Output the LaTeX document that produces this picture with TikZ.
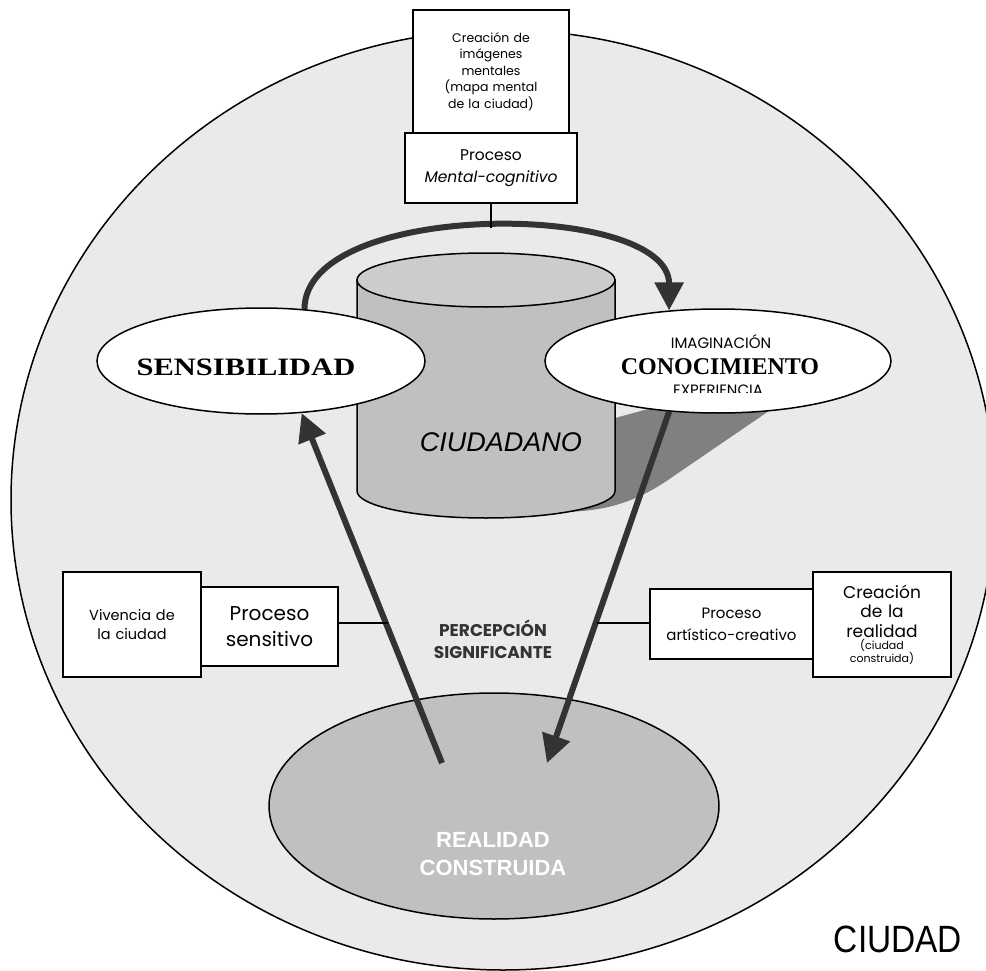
\documentclass[tikz,border=0pt]{standalone}
\usepackage{fontspec}
\usetikzlibrary{arrows.meta,shapes.geometric}
\newfontfamily\gothic{Poppins}
\newfontfamily\arialfont{Liberation Sans}
\newfontfamily\timesfont{Liberation Serif}
\definecolor{ciudadgray}{HTML}{EAEAEA}
\definecolor{cylgray}{HTML}{C0C0C0}
\definecolor{cyltop}{HTML}{CCCCCC}
\definecolor{shadowgray}{HTML}{808080}
\definecolor{arrowgray}{HTML}{333333}
\newcommand{\fs}[2]{\fontsize{#1}{#2}\selectfont}
\pgfdeclarelayer{back}
\pgfsetlayers{back,main}

\begin{document}
\begin{tikzpicture}[x=1pt,y=-1pt,
        box/.style={draw,line width=1.6pt,fill=white,inner sep=0pt,align=center},
        oval/.style={draw,line width=1.5pt,ellipse,inner sep=0pt},
        bigarrow/.style={draw=arrowgray,line width=6pt,-{Triangle[length=28pt,width=28pt]}}]
            \useasboundingbox (0,0) rectangle (986,971);

            \node[oval,fill=white,minimum width=328pt,minimum height=106pt] (sens) at (261,361) {};
            \node[anchor=base,font=\timesfont\bfseries\fs{25}{25}] (senstext) at (246,375)
                {\scalebox{1.22}[1]{SENSIBILIDAD}};
            \node[oval,fill=white,minimum width=346pt,minimum height=104pt] (conoc) at (718,361) {};
            \node[anchor=base,font=\gothic\fs{15}{15}] (imag) at (721,348) {IMAGINACIÓN};
            \node[anchor=base,font=\timesfont\bfseries\fs{24}{24}] (conoctext) at (720,374) {CONOCIMIENTO};
            \begin{scope}
                \clip (600,370) rectangle (840,392);
                \node[anchor=base,font=\gothic\fs{15}{15}] (exper) at (718,395) {EXPERIENCIA};
            \end{scope}
            \node[font=\arialfont\itshape\fs{27}{27}] (ciudadano) at (501,442) {CIUDADANO};

            \begin{pgfonlayer}{back}
                \draw[line width=1.5pt,fill=ciudadgray] (503,500) ellipse[x radius=492,y radius=470];
                \fill[shadowgray] (615,418) -- (700,395) -- (785,400) -- (665,482)
                    .. controls (630,505) and (600,511) .. (565,512) -- cycle;
                \draw[line width=1.5pt,fill=cylgray] (357,280) -- (357,491)
                    arc[start angle=180,end angle=0,x radius=129,y radius=27] -- (615,280) -- cycle;
                \draw[line width=1.5pt,fill=cyltop] (486,280) ellipse[x radius=129,y radius=27];
                \draw[bigarrow] (sens.50) .. controls +(0,-110) and +(0,-110) .. (conoc.134);
            \end{pgfonlayer}

            \node[box,text width=156pt,minimum height=123pt,font=\gothic\fs{12.5}{16.5}] (imagenes) at (491,71.5)
                {Creación de\\imágenes\\mentales\\(mapa mental\\de la ciudad)\par\vspace*{16pt}};
            \node[box,text width=172pt,minimum height=70pt,font=\gothic\fs{15.5}{22}] (mental) at (491,168)
                {Proceso\\\textit{Mental-cognitivo}};
            \coordinate (looptop) at (491,228);
            \draw[line width=1.5pt] (mental.south) -- (looptop);

            \node[oval,fill=cylgray,minimum width=450pt,minimum height=226pt] (realidad) at (494,806) {};
            \node[font=\arialfont\bfseries\fs{22}{28},text=white,align=center] (realtext) at (493,854)
                {REALIDAD\\CONSTRUIDA};
            \coordinate (upfoot) at (442,763);
            \coordinate (downfoot) at (547,763);
            \draw[bigarrow] (upfoot) -- (sens.-52);
            \draw[bigarrow] (conoc.-134) -- (downfoot);

            \node[box,text width=138pt,minimum height=105pt,font=\gothic\fs{14.5}{19}] (vivencia) at (132,624.5)
                {Vivencia de\\la ciudad};
            \node[box,text width=137pt,minimum height=79pt,font=\gothic\fs{20}{26}] (sensitivo) at (269.5,626.5)
                {Proceso\\sensitivo};
            \node[box,text width=163pt,minimum height=70pt,font=\gothic\fs{15}{22}] (artistico) at (731.5,624)
                {Proceso\\artístico-creativo};
            \node[box,text width=138pt,minimum height=105pt,font=\gothic\fs{17}{19.5}] (creacion) at (882,624.5)
                {Creación\\de la\\realidad\par\fs{11}{12.5}(ciudad\\construida)\par};
            \coordinate (pl) at (388,623);
            \coordinate (pr) at (597,623);
            \draw[line width=1.5pt] (sensitivo.east |- pl) -- (pl);
            \draw[line width=1.5pt] (artistico.west |- pr) -- (pr);

            \node[font=\gothic\bfseries\fs{17}{22},text=arrowgray,align=center] (percep) at (493,639)
                {PERCEPCIÓN\\SIGNIFICANTE};
            \node[anchor=base,font=\arialfont\fs{38}{38}] (ciudad) at (898,952) {\scalebox{0.88}[1]{CIUDAD}};
        \end{tikzpicture}
\end{document}
